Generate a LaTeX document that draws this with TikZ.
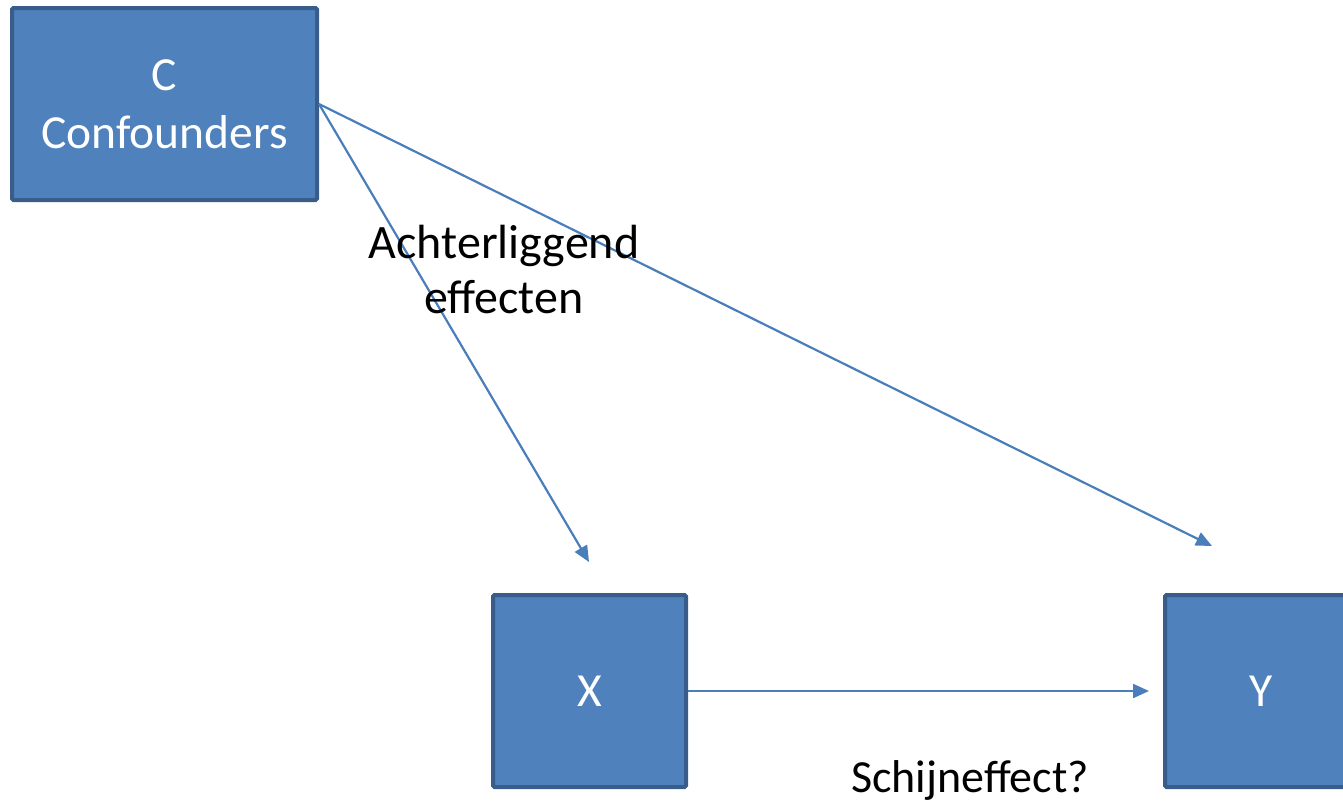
\documentclass[tikz,border=0pt]{standalone}
\usepackage{fontspec}
\setmainfont{Carlito}
\usetikzlibrary{arrows.meta}
\definecolor{boxfill}{HTML}{4F81BD}
\definecolor{boxline}{HTML}{385D8A}
\definecolor{arrowc}{HTML}{4A7EBB}
\begin{document}
\begin{tikzpicture}[x=1pt,y=-1pt,
  box/.style={draw=boxline, fill=boxfill, line width=4pt, rounded corners=1.5pt,
    inner sep=0pt, text=white, align=center,
    font=\fontsize{47.5}{58}\selectfont},
  conn/.style={draw=arrowc, line width=2.2pt, -{Triangle[length=16pt,width=14pt]}},
  lbl/.style={align=center, text=black, font=\fontsize{48}{55}\selectfont}]
\useasboundingbox (0,0) rectangle (1343,804);
\node[box, minimum width=305pt, minimum height=192pt] (C) at (164.5,104) {C\\Confounders};
\node[box, minimum width=193pt, minimum height=192pt] (X) at (589.5,691) {X};
\node[box, minimum width=193pt, minimum height=192pt] (Y) at (1261.5,691) {Y};
\coordinate (tx) at (589,562);
\coordinate (ty) at (1212,546);
\coordinate (txy) at (1149,691);
\draw[conn] (C.east) -- (tx);
\draw[conn] (C.east) -- (ty);
\draw[conn] (X.east) -- (txy);
\node[lbl, anchor=base] (L1) at (504,313) {Achterliggend\\effecten};
\node[lbl, anchor=base, font=\fontsize{46}{55}\selectfont] (L2) at (970,792) {Schijneffect?};
\end{tikzpicture}
\end{document}
